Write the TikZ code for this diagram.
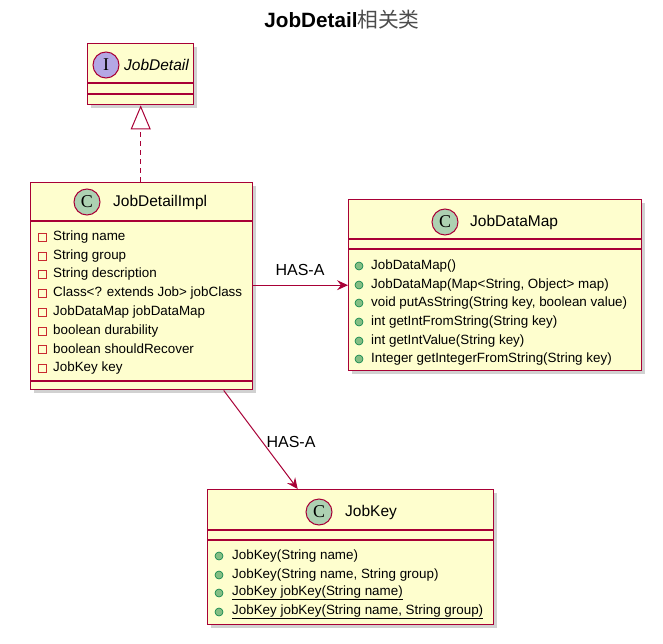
\documentclass[tikz,border=0pt]{standalone}
\usepackage{fontspec}
\setmainfont{Liberation Sans}
\newfontfamily\cjk{Noto Sans CJK SC}
\newfontfamily\serifletter{Liberation Serif}
\usetikzlibrary{arrows.meta,shadows}
\definecolor{umlfill}{HTML}{FEFECE}
\definecolor{umlborder}{HTML}{A80036}
\definecolor{cfill}{HTML}{ADD1B2}
\definecolor{ifill}{HTML}{B4A7E5}
\definecolor{pubfill}{HTML}{84BE84}
\definecolor{pubdraw}{HTML}{038048}
\definecolor{privdraw}{HTML}{C82930}
\tikzset{
  classbox/.style={draw=umlborder, fill=umlfill, line width=1.4pt, rectangle, inner sep=0pt, anchor=north west,
    drop shadow={shadow xshift=3.5pt, shadow yshift=-3.5pt, opacity=0.3, fill=black!60}},
  sepline/.style={draw=umlborder, line width=1.4pt},
  circ/.style={circle, draw=umlborder, line width=1pt, minimum size=26pt, inner sep=0pt, font=\serifletter\fontsize{18}{18}\selectfont},
  ctitle/.style={anchor=west, inner sep=0pt, font=\fontsize{15.5}{18}\selectfont},
  member/.style={anchor=west, inner sep=0pt, font=\fontsize{13.4}{16}\selectfont},
  priv/.style={rectangle, draw=privdraw, line width=0.9pt, minimum size=8pt, inner sep=0pt},
  pub/.style={circle, draw=pubdraw, fill=pubfill, line width=0.6pt, minimum size=8pt, inner sep=0pt},
  rel/.style={draw=umlborder, line width=1pt, -{Stealth[length=11pt,width=10pt,inset=4pt]}},
  lbl/.style={inner sep=0pt, font=\fontsize{16}{19}\selectfont}
}
\begin{document}
\begin{tikzpicture}[x=1pt,y=-1pt]
\useasboundingbox (0,0) rectangle (663,644);
% title
\node[inner sep=0pt] (title) at (342,20) {\fontsize{20.7}{24}\selectfont\bfseries JobDetail{\cjk\mdseries\color{black!70}相关类}};

% JobDetail interface
\node[classbox, minimum width=106pt, minimum height=61pt] (jd) at (87,43) {};
\draw[sepline] (jd.west |- 0,83) -- (jd.east |- 0,83);
\draw[sepline] (jd.west |- 0,94) -- (jd.east |- 0,94);
\node[circ, fill=ifill] (jdI) at (106,65) {I};
\node[ctitle] (jdT) at (124,65) {\itshape JobDetail};

% JobDetailImpl
\node[classbox, minimum width=222pt, minimum height=207pt] (impl) at (30,182) {};
\draw[sepline] (impl.west |- 0,221) -- (impl.east |- 0,221);
\draw[sepline] (impl.west |- 0,381) -- (impl.east |- 0,381);
\node[circ, fill=cfill] (implC) at (87,202) {C};
\node[ctitle] (implT) at (113,202) {JobDetailImpl};
\foreach \yy/\txt [count=\i] in {237/String name, 256/String group, 274/String description,
  293/{Class<? extends Job> jobClass}, 312/JobDataMap jobDataMap, 331/boolean durability,
  349/boolean shouldRecover, 368/JobKey key}{
  \node[priv] (ip\i) at (42,\yy) {};
  \node[member] (im\i) at (53,\yy) {\txt};
}

% JobDataMap
\node[classbox, minimum width=293pt, minimum height=171pt] (jdm) at (348,199) {};
\draw[sepline] (jdm.west |- 0,239) -- (jdm.east |- 0,239);
\draw[sepline] (jdm.west |- 0,249) -- (jdm.east |- 0,249);
\node[circ, fill=cfill] (jdmC) at (445,222) {C};
\node[ctitle] (jdmT) at (470,222) {JobDataMap};
\foreach \yy/\txt [count=\i] in {266/JobDataMap(), 285/{JobDataMap(Map<String, Object> map)},
  303/{void putAsString(String key, boolean value)}, 322/int getIntFromString(String key),
  341/int getIntValue(String key), 359/Integer getIntegerFromString(String key)}{
  \node[pub] (dp\i) at (359,\yy) {};
  \node[member] (dm\i) at (371,\yy) {\txt};
}

% JobKey
\node[classbox, minimum width=286pt, minimum height=135pt] (jk) at (207,489) {};
\draw[sepline] (jk.west |- 0,530) -- (jk.east |- 0,530);
\draw[sepline] (jk.west |- 0,540) -- (jk.east |- 0,540);
\node[circ, fill=cfill] (jkC) at (319,512) {C};
\node[ctitle] (jkT) at (345,512) {JobKey};
\node[pub] (kp1) at (219,556) {};
\node[member] (km1) at (232,556) {JobKey(String name)};
\node[pub] (kp2) at (219,575) {};
\node[member] (km2) at (232,575) {JobKey(String name, String group)};
\node[pub] (kp3) at (219,593) {};
\node[member] (km3) at (232,593) {\underline{JobKey jobKey(String name)}};
\node[pub] (kp4) at (219,612) {};
\node[member] (km4) at (232,612) {\underline{JobKey jobKey(String name, String group)}};

% relations
\draw[draw=umlborder, line width=1pt, dash pattern=on 5pt off 4pt,
  -{Triangle[open, length=24pt, width=20pt, line width=1pt]}]
  (jd.south |- impl.north) -- (jd.south);
\draw[rel] (impl.east |- jdm.west) -- (jdm.west);
\node[lbl] (l1) at (300,270) {HAS-A};
\draw[rel] ([xshift=82pt]impl.south) -- ([xshift=-53pt]jk.north);
\node[lbl] (l2) at (291,442) {HAS-A};
\end{tikzpicture}
\end{document}
